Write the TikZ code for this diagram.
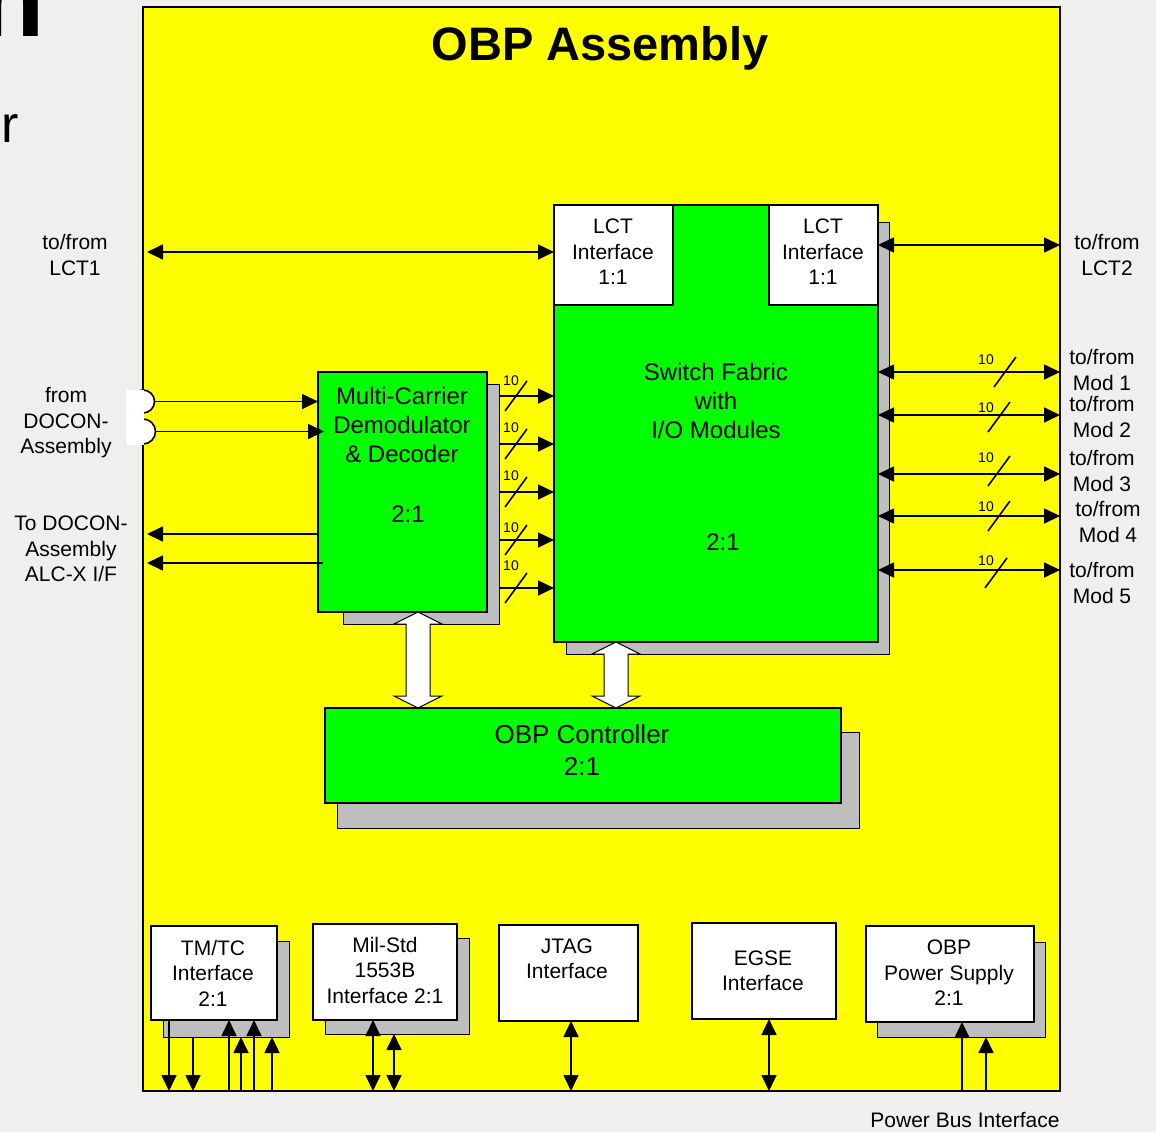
\documentclass[tikz,border=0pt]{standalone}
\usepackage{fontspec}
\setmainfont{Liberation Sans}
\usetikzlibrary{arrows.meta,fit,calc}
\definecolor{bgc}{RGB}{240,239,238}
\definecolor{ylw}{RGB}{255,255,0}
\definecolor{grn}{RGB}{0,255,0}
\definecolor{shd}{RGB}{190,190,190}
\newcommand\fs[2]{\fontsize{#1}{#2}\selectfont}
\begin{document}
\begin{tikzpicture}[x=1pt,y=-1pt,
  wbox/.style={draw, fill=white, line width=1.8pt, inner sep=0pt, outer sep=0pt},
  gbox/.style={draw, fill=grn, line width=1.8pt, inner sep=0pt, outer sep=0pt},
  sbox/.style={draw, fill=shd, line width=1pt, inner sep=0pt, outer sep=0pt},
  lbl/.style={align=center, inner sep=0pt, font=\fs{21}{25.5}},
  big/.style={align=center, inner sep=0pt, font=\fs{24}{29}},
  tiny/.style={inner sep=0pt, font=\fs{14}{16}},
  >={Triangle[length=16pt,width=15pt]},
  arr/.style={line width=1.7pt, ->},
  darr/.style={line width=1.7pt, <->},
  slash/.style={line width=1.6pt},
  wide/.style={draw, fill=white, line width=1pt, line join=miter}
]
\useasboundingbox (0,0) rectangle (1156,1132);
\fill[bgc] (0,0) rectangle (1156,1132);

% cut-off fragments at the left edge
\node[font=\fs{107}{110}\bfseries, anchor=base east, inner sep=0pt] (frag1) at (45,37) {n};
\node[font=\fs{52}{55}, anchor=base east, inner sep=0pt] (frag2) at (19,142) {r};

% assembly frame
\node[draw, fill=ylw, line width=2pt, inner sep=0pt, outer sep=0pt, fit={(143,7) (1060,1091)}] (asm) {};
\node[font=\fs{47}{50}\bfseries, anchor=base, inner sep=0pt] (title) at (600,61) {OBP Assembly};

% shadows
\node[sbox, fit={(566,222) (889,654)}] (swsh) {};
\node[sbox, fit={(343,384) (499,624)}] (dmsh) {};
\node[sbox, fit={(337,732) (859,828)}] (ctsh) {};

% main blocks
\node[gbox, fit={(554,205) (878,642)}] (sw) {};
\node[wbox, fit={(554,205) (673,305)}] (lctL) {};
\node[wbox, fit={(769,205) (878,305)}] (lctR) {};
\node[gbox, fit={(318,372) (487,612)}] (dm) {};
\node[gbox, fit={(325,708) (841,803)}] (ct) {};

\node[lbl] (lctLt) at (613,252) {LCT\\Interface\\1:1};
\node[lbl] (lctRt) at (823,252) {LCT\\Interface\\1:1};
\node[big] (swt) at (716,401) {Switch Fabric\\with\\I/O Modules};
\node[big] (swr) at (723,542) {2:1};
\node[big] (dmt) at (402,425) {Multi-Carrier\\Demodulator\\\& Decoder};
\node[big] (dmr) at (408,514) {2:1};
\node[align=center, inner sep=0pt, font=\fs{26}{32}] (ctt) at (582,750) {OBP Controller\\2:1};

% demod -> switch buses
\foreach \yy/\ly [count=\i] in {396/381, 444/428, 492/476, 540/528, 588/566} {
  \draw[arr] (dmsh.east |- 0,\yy) -- (sw.west |- 0,\yy);
  \draw[slash, shift={(516,\yy)}] (-11,15) -- (11,-15);
  \node[tiny] (b\i) at (511,\ly) {10};
}

% switch <-> modules
\foreach \yy/\sx/\sy/\ly [count=\i] in {372/1005/372/360, 415/999/417/408, 474/999/471/458, 516/999/516/507, 570/996/573/561} {
  \draw[darr] (sw.east |- 0,\yy) -- (asm.east |- 0,\yy);
  \draw[slash, shift={(\sx,\sy)}] (-11,15) -- (11,-15);
  \node[tiny] (r\i) at (986,\ly) {10};
}
\node[lbl] (m1) at (1102,370) {to/from\\Mod 1};
\node[lbl] (m2) at (1102,417) {to/from\\Mod 2};
\node[lbl] (m3) at (1102,471) {to/from\\Mod 3};
\node[lbl] (m4) at (1108,522) {to/from\\Mod 4};
\node[lbl] (m5) at (1102,583) {to/from\\Mod 5};

% LCT links
\coordinate (l1) at (147,252);
\draw[darr] (l1) -- (l1 -| lctL.west);
\draw[darr] (lctR.east |- 0,245) -- (asm.east |- 0,245);
\node[lbl] (lct1) at (75,255) {to/from\\LCT1};
\node[lbl] (lct2) at (1107,255) {to/from\\LCT2};

% DOCON connectors
\node[circle, draw, fill=white, line width=1.6pt, minimum size=23pt, inner sep=0pt] (c1) at (143,401.5) {};
\node[circle, draw, fill=white, line width=1.6pt, minimum size=25pt, inner sep=0pt] (c2) at (143,431.5) {};
\fill[white] (126,389.5) rectangle (143.5,444.5);
\draw[arr] (c1.east) -- (c1.east -| dm.west);
\draw[arr] (c2.east) -- ([xshift=6pt]c2.east -| dm.west);
\node[lbl] (fromd) at (66,423) {from\\DOCON-\\Assembly};

\coordinate (o1) at (147,534);
\coordinate (o2) at (147,563);
\draw[arr] (dm.west |- o1) -- (o1);
\draw[arr] ([xshift=5pt]dm.west |- o2) -- (o2);
\node[lbl] (tod) at (71,549) {To DOCON-\\Assembly\\ALC-X I/F};

% wide bidirectional arrows to controller
\draw[wide] (418,612) -- (442,624) -- (430,624) -- (430,696) -- (442,696) -- (418,708) -- (394,696) -- (406,696) -- (406,624) -- (394,624) -- cycle;
\draw[wide] (616,642) -- (640,654) -- (628,654) -- (628,696) -- (640,696) -- (616,708) -- (592,696) -- (604,696) -- (604,654) -- (592,654) -- cycle;

% bottom interface boxes
\node[sbox, fit={(163,941) (289,1037)}] (tmsh) {};
\node[wbox, fit={(151,926) (277,1020)}] (tm) {};
\node[sbox, fit={(325,938) (469,1034)}] (mish) {};
\node[wbox, fit={(313,924) (457,1020)}] (mi) {};
\node[wbox, fit={(499,925) (638,1021)}] (jt) {};
\node[wbox, fit={(692,923) (836,1019)}] (eg) {};
\node[sbox, fit={(877,942) (1045,1037)}] (pssh) {};
\node[wbox, fit={(866,926) (1034,1022)}] (ps) {};

\node[lbl] (tmt) at (213,973) {TM/TC\\Interface\\2:1};
\node[lbl] (mit) at (385,970) {Mil-Std\\1553B\\Interface 2:1};
\node[lbl] (jtt) at (567,959) {JTAG\\Interface};
\node[lbl] (egt) at (763,971) {EGSE\\Interface};
\node[lbl] (pst) at (949,973) {OBP\\Power Supply\\2:1};
\node[lbl] (pbus) at (965,1120) {Power Bus Interface};

\draw[arr] (tm.south -| 169,0) -- (asm.south -| 169,0);
\draw[arr] (tmsh.south -| 193,0) -- (asm.south -| 193,0);
\draw[arr] (asm.south -| 229,0) -- (tm.south -| 229,0);
\draw[arr] (asm.south -| 241,0) -- (tmsh.south -| 241,0);
\draw[arr] (asm.south -| 254,0) -- (tm.south -| 254,0);
\draw[arr] (asm.south -| 272,0) -- (tmsh.south -| 272,0);
\draw[darr] (mi.south -| 373,0) -- (asm.south -| 373,0);
\draw[darr] (mish.south -| 394,0) -- (asm.south -| 394,0);
\draw[darr] (jt.south -| 571,0) -- (asm.south -| 571,0);
\draw[darr] (eg.south -| 769,0) -- (asm.south -| 769,0);
\draw[arr] (asm.south -| 962,0) -- (ps.south -| 962,0);
\draw[arr] (asm.south -| 986,0) -- (pssh.south -| 986,0);
\end{tikzpicture}
\end{document}
